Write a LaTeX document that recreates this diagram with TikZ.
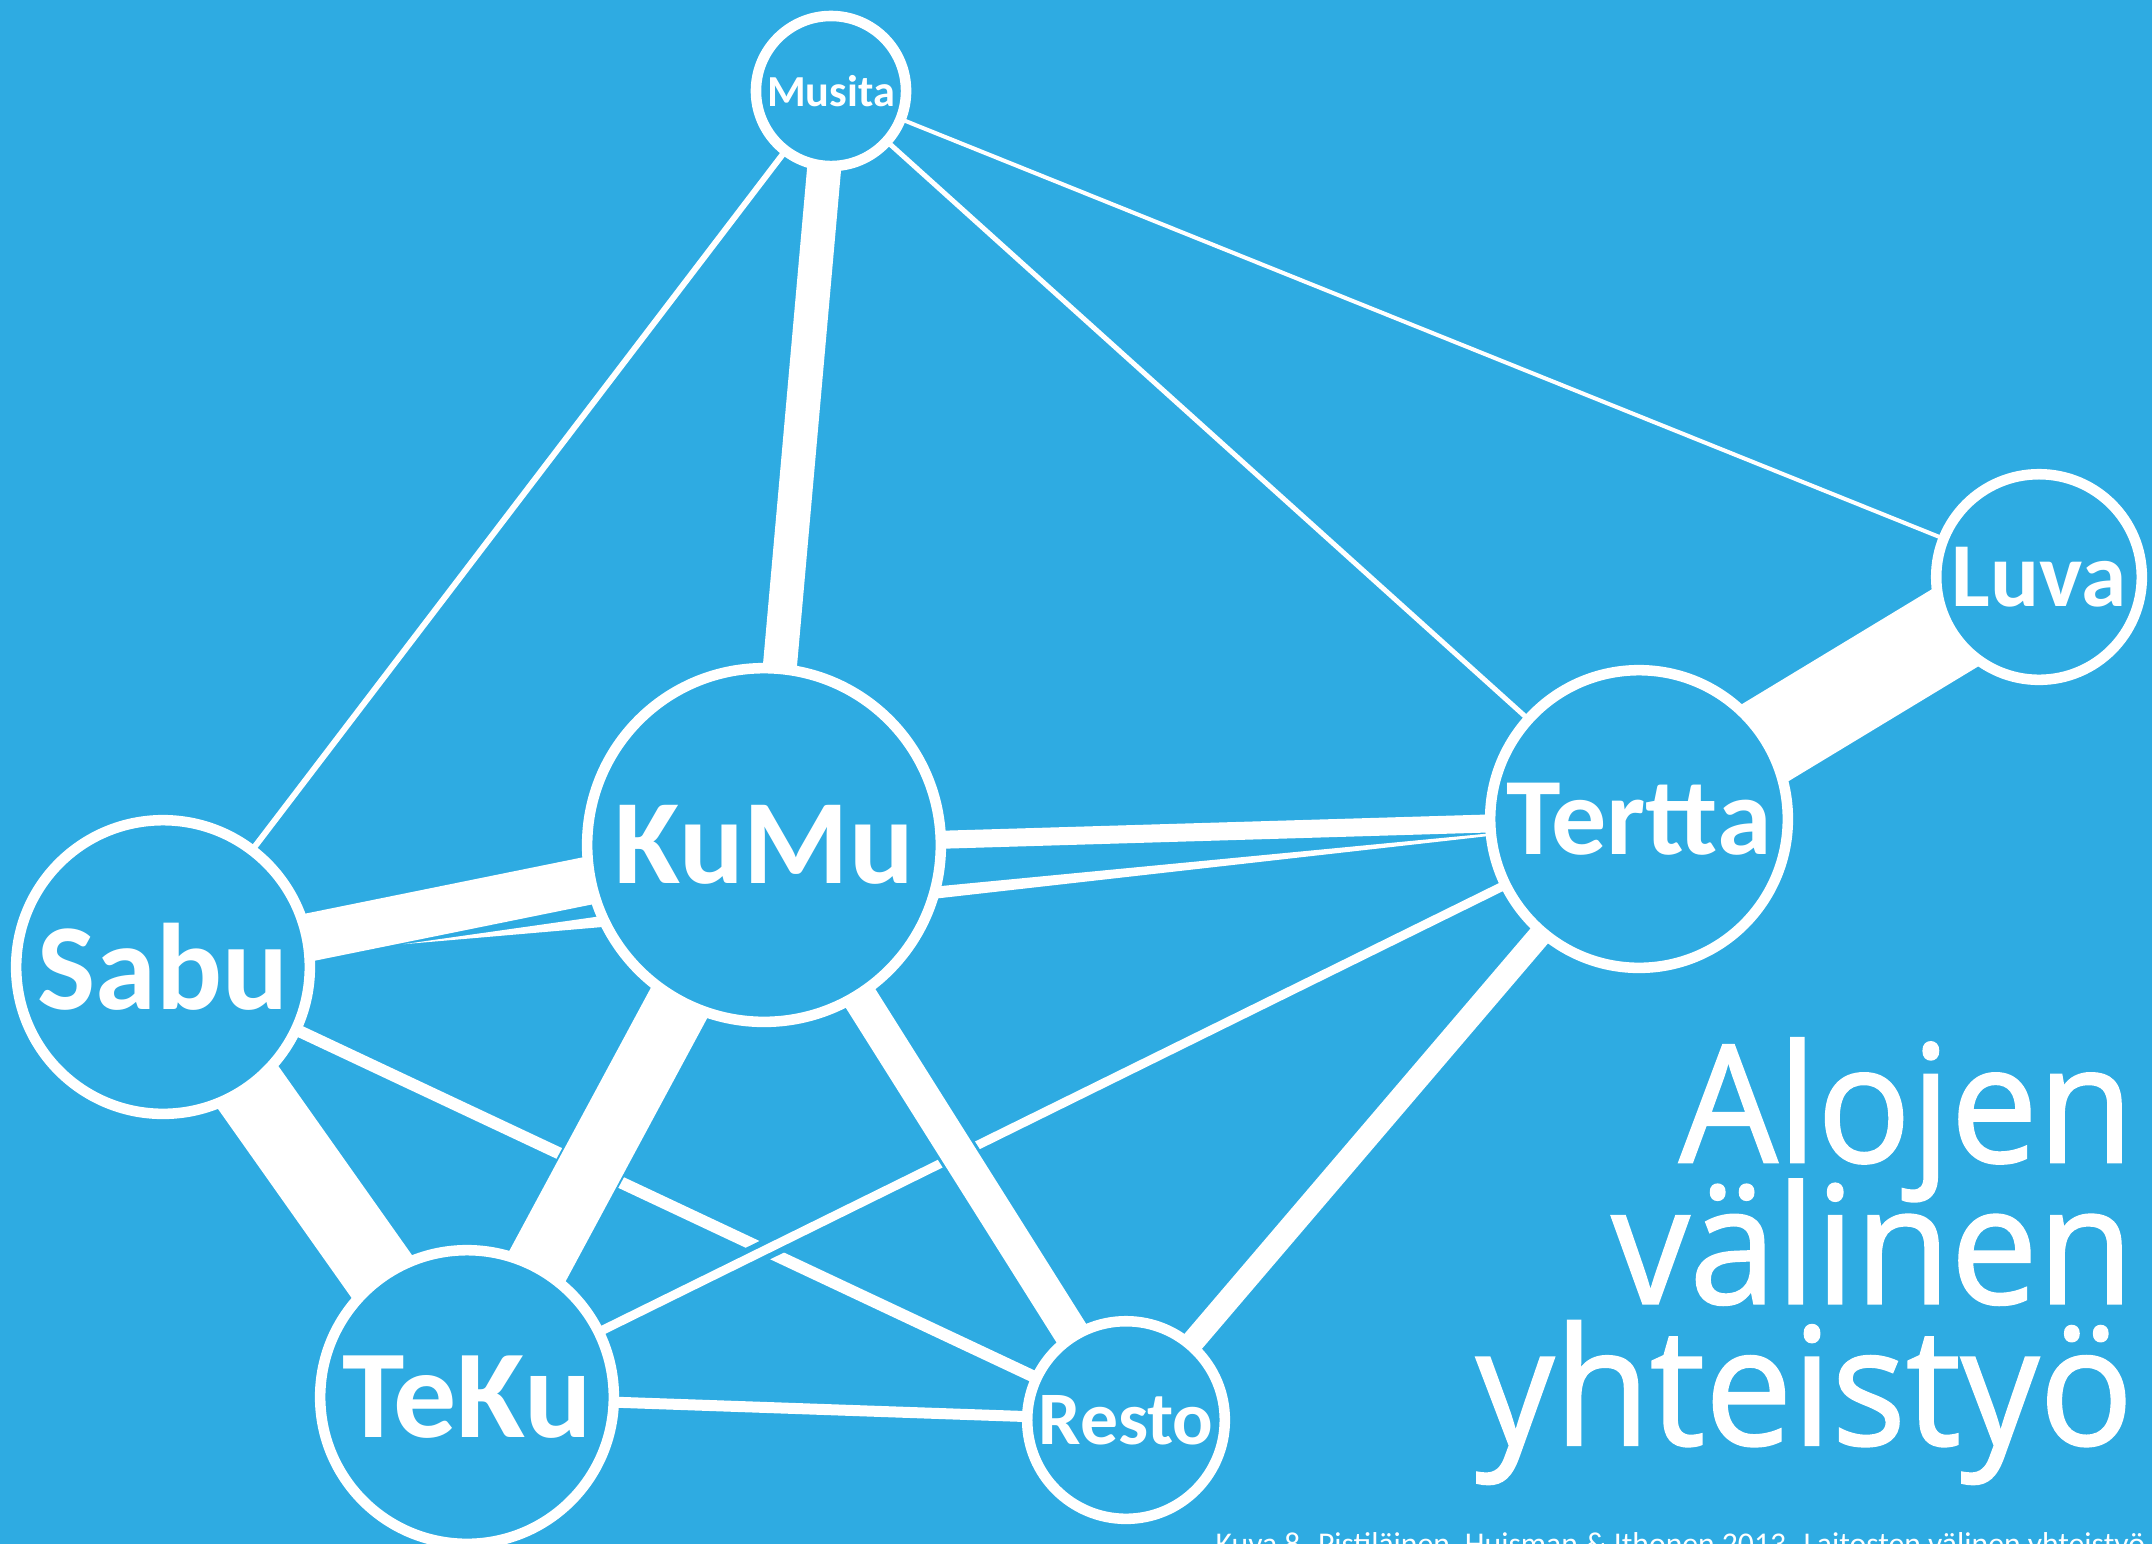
\documentclass[tikz,border=0pt]{standalone}
\usepackage{fontspec}
\setmainfont{Carlito}
\newfontfamily\titlefont[FakeStretch=0.95, FakeBold=1.2]{Open Sans}
\usepackage{xcolor}
\usetikzlibrary{calc, backgrounds}

\definecolor{bgblue}{RGB}{46,171,226}
\newcommand{\px}{0.2845pt}
\newcommand{\titlesize}{\titlefont\fontsize{46.6}{40.2}\selectfont\setlength{\lineskiplimit}{-100pt}}

\tikzset{
    dept/.style={circle, draw=white, line width=3pt, fill=bgblue, text=white, inner sep=0pt},
    link/.style={draw=white, line width=#1*\px},
    crosslink/.style 2 args={draw=white, line width=#1*\px, preaction={draw=bgblue, line width=#1*\px+#2*\px}},
}

\begin{document}
\begin{tikzpicture}[x=0.01cm, y=-0.01cm]
    \useasboundingbox (0,0) rectangle (2152,1544);

    \node[dept, minimum size=1.50cm, font=\bfseries\fontsize{12.6}{14}\selectfont] (Musita) at (831,91) {Musita};
    \node[dept, minimum size=3.535cm, font=\bfseries\fontsize{34.3}{36}\selectfont] (KuMu) at (764,845) {KuMu};
    \node[dept, minimum size=2.935cm, font=\bfseries\fontsize{35}{36}\selectfont] (Sabu) at (163,967) {Sabu};
    \node[dept, minimum size=2.975cm, font=\bfseries\fontsize{31.3}{32}\selectfont] (Tertta) at (1639,819) {Tertta};
    \node[dept, minimum size=2.055cm, font=\bfseries\fontsize{26}{28}\selectfont] (Luva) at (2039,577) {Luva};
    \node[dept, minimum size=2.935cm, font=\bfseries\fontsize{35.8}{36}\selectfont] (TeKu) at (467,1397) {TeKu};
    \node[dept, minimum size=1.975cm, font=\bfseries\fontsize{21.5}{22}\selectfont] (Resto) at (1126,1420) {Resto};

    % otsikko
    \node[anchor=base east, align=right, inner sep=0pt, text=white, font=\titlesize] (title) at (2134,1445) {Alojen\\välinen\\yhteistyö};
    \node[anchor=base west, inner sep=0pt, text=white, font=\fontsize{9}{10}\selectfont] (caption) at (1215,1554) {Kuva 8. Pistiläinen, Huisman \& Ithonen 2013. Laitosten välinen yhteistyö};

    \begin{scope}[on background layer]
        \fill[bgblue] (0,0) rectangle (2152,1544);

        \path (Sabu.center) edge[link=12] (Resto.center);
        \path (TeKu.center) edge[crosslink={9}{12}] (Tertta.center);
        \path (KuMu.center) edge[crosslink={35}{6}] (Resto.center);
        \path (KuMu.center) edge[crosslink={64}{4}] (TeKu.center);

        \path
        (Musita.center) edge[link=6] (Sabu.center)
        (Musita.center) edge[link=34] (KuMu.center)
        (Musita.center) edge[link=5] (Tertta.center)
        (Musita.center) edge[link=4] (Luva.center)
        (Luva.center) edge[link=90] (Tertta.center)
        (Sabu.center) edge[link=48] (KuMu.center)
        (KuMu.center) edge[link=18] (Tertta.center)
        (Sabu.center) edge[link=74] (TeKu.center)
        (TeKu.center) edge[link=11] (Resto.center)
        (Tertta.center) edge[link=23] (Resto.center);

        % kapenevat yhteydet
        \coordinate (tip) at ($(Sabu.center)!0.4!(KuMu.center)+(0,26)$);
        \fill[white] (Tertta.center) -- ($(KuMu.center)+(0,58)$) -- ($(KuMu.center)+(0,73)$) -- cycle;
        \fill[white] (tip) -- ($(KuMu.center)+(0,48)$) -- ($(KuMu.center)+(0,68)$) -- cycle;
    \end{scope}
\end{tikzpicture}
\end{document}
